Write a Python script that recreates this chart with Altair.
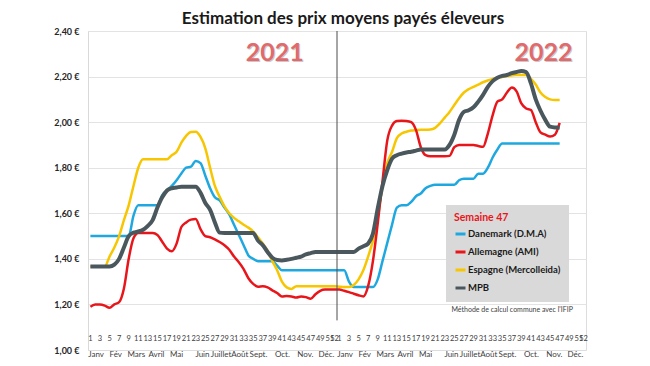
import altair as alt
import pandas as pd

# ---------------- data ----------------
series_names = ["Danemark (D.M.A)", "Allemagne (AMI)", "Espagne (Mercolleida)", "MPB"]
series_colors = ["#1FA8E0", "#E8161B", "#F7C600", "#4A585E"]

weeks_2021 = list(range(1, 53))
weeks_2022 = list(range(1, 48))

danemark_2021 = [1.50] * 9 + [1.59] + [1.635] * 5 + [
    1.68, 1.70, 1.72, 1.745, 1.775, 1.80, 1.805, 1.83, 1.82, 1.765,
    1.71, 1.67, 1.657, 1.625, 1.595, 1.55, 1.505, 1.46, 1.415, 1.40,
] + [1.39] * 4 + [1.37] + [1.35] * 12
danemark_2022 = [1.35, 1.35, 1.30] + [1.276] * 5 + [
    1.31, 1.39, 1.47, 1.55, 1.625, 1.635, 1.635, 1.65, 1.675, 1.687, 1.71, 1.72,
] + [1.725] * 5 + [1.745] + [1.752] * 3 + [1.774, 1.774, 1.80, 1.845, 1.88] + [1.906] * 13

allemagne_2021 = [
    1.19, 1.20, 1.20, 1.195, 1.185, 1.20, 1.21, 1.27, 1.40, 1.49,
    1.513, 1.513, 1.513, 1.513, 1.505, 1.475, 1.445, 1.433, 1.467, 1.54,
    1.56, 1.572, 1.575, 1.53, 1.50, 1.495, 1.485, 1.474, 1.46, 1.44,
    1.41, 1.385, 1.355, 1.315, 1.29, 1.278, 1.28, 1.275, 1.262, 1.25,
    1.235, 1.237, 1.235, 1.23, 1.235, 1.232, 1.225, 1.245, 1.26, 1.265,
    1.265, 1.265,
]
allemagne_2022 = [
    1.265, 1.26, 1.254, 1.247, 1.24, 1.235, 1.28, 1.39, 1.555, 1.74,
    1.92, 1.985, 2.005, 2.006, 2.005, 2.00, 1.965, 1.89, 1.855, 1.85,
    1.85, 1.85, 1.85, 1.852, 1.89, 1.90, 1.90, 1.90, 1.90, 1.895,
    1.892, 1.95, 2.03, 2.09, 2.10, 2.13, 2.152, 2.135, 2.082, 2.06,
    2.053, 2.00, 1.955, 1.945, 1.937, 1.945, 1.997,
]

espagne_2021 = [1.367] * 4 + [1.41, 1.45, 1.50, 1.57, 1.635, 1.72, 1.80] + [1.837] * 6 + [
    1.855, 1.87, 1.91, 1.94, 1.957, 1.958, 1.935, 1.885, 1.80, 1.72,
    1.672, 1.63, 1.60, 1.58, 1.565, 1.55, 1.537, 1.52, 1.495, 1.467,
    1.435, 1.39, 1.35, 1.30, 1.275, 1.268,
] + [1.28] * 9
espagne_2022 = [
    1.278, 1.276, 1.276, 1.285, 1.31, 1.35, 1.41, 1.48, 1.58, 1.72,
    1.82, 1.87, 1.93, 1.95, 1.958, 1.963, 1.965, 1.967, 1.967, 1.968,
    1.975, 1.995, 2.02, 2.045, 2.075, 2.105, 2.13, 2.145, 2.155, 2.165,
    2.175, 2.183, 2.19, 2.195, 2.198, 2.202, 2.205, 2.207, 2.207, 2.207,
    2.19, 2.165, 2.13, 2.11, 2.10, 2.097, 2.097,
]

mpb_2021 = [1.367] * 5 + [
    1.375, 1.40, 1.45, 1.50, 1.515, 1.52, 1.528, 1.545, 1.57, 1.625,
    1.67, 1.70, 1.71, 1.713,
] + [1.717] * 4 + [1.69, 1.645, 1.615, 1.56, 1.515] + [1.513] * 7 + [
    1.48, 1.46, 1.43, 1.405, 1.395, 1.393, 1.396, 1.40, 1.405, 1.41, 1.42, 1.425,
] + [1.43] * 5
mpb_2022 = [1.43] * 4 + [
    1.445, 1.455, 1.467, 1.51, 1.62, 1.72, 1.79, 1.84, 1.855, 1.862,
    1.867, 1.87, 1.875,
] + [1.88] * 6 + [
    1.90, 1.945, 2.01, 2.045, 2.052, 2.065, 2.09, 2.12, 2.155, 2.18,
    2.195, 2.203, 2.207, 2.215, 2.22, 2.224, 2.22, 2.17, 2.10, 2.05,
    2.01, 1.98, 1.977, 1.977,
]

week_ticks = list(range(1, 52, 2)) + [52]
months = ["Janv", "Fév", "Mars", "Avril", "Mai", "Juin", "Juillet", "Août",
          "Sept.", "Oct.", "Nov.", "Déc."]
month_weeks = [2.2, 6.3, 10.6, 14.8, 19.0, 24.4, 28.3, 32.2, 36.1, 41.1, 45.9, 50.3]
years = ["2021", "2022"]
year_weeks = [39.5, 43.6]  # week of the year label centre within its own year

y_ticks = [1.0, 1.2, 1.4, 1.6, 1.8, 2.0, 2.2, 2.4]

# ---------------- tables ----------------
values = {
    "Danemark (D.M.A)": (danemark_2021, danemark_2022),
    "Allemagne (AMI)": (allemagne_2021, allemagne_2022),
    "Espagne (Mercolleida)": (espagne_2021, espagne_2022),
    "MPB": (mpb_2021, mpb_2022),
}
rows = []
for name, (v21, v22) in values.items():
    for w, v in zip(weeks_2021, v21):
        rows.append({"serie": name, "pos": w - 1, "prix": v})
    for w, v in zip(weeks_2022, v22):
        rows.append({"serie": name, "pos": 51 + w, "prix": v})
df = pd.DataFrame(rows)

tick_rows = []
for w in week_ticks:
    tick_rows.append({"pos": w - 1, "label": str(w)})
    tick_rows.append({"pos": 51 + w, "label": str(w)})
ticks_df = pd.DataFrame(tick_rows)

month_rows = []
for m, w in zip(months, month_weeks):
    month_rows.append({"pos": w - 1, "label": m})
    month_rows.append({"pos": 51 + w, "label": m})
months_df = pd.DataFrame(month_rows)

years_df = pd.DataFrame({"label": years, "pos": [year_weeks[0] - 1, 51 + year_weeks[1]]})

# ---------------- chart ----------------
FONT = "Lato"
x_scale = alt.Scale(domain=[-0.5, 103.5], nice=False, zero=False)
y_scale = alt.Scale(domain=[1.0, 2.4], nice=False, zero=False)

y_axis = alt.Axis(
    values=y_ticks,
    labelExpr="replace(format(datum.value, '.2f'), '.', ',') + ' €'",
    title=None, ticks=False, labelPadding=9,
    labelFont=FONT, labelFontSize=9, labelFontWeight="bold", labelColor="#262626",
    domainColor="#D9D9D9", gridColor="#E3E3E3",
    gridOpacity={"condition": {"test": "datum.value < 1.1", "value": 0}, "value": 1},
)

color = alt.Color(
    "serie:N",
    scale=alt.Scale(domain=series_names, range=series_colors),
    legend=alt.Legend(
        orient="none", legendX=358, legendY=174,
        title="Semaine 47", titleColor="#E8161B", titleFont=FONT, titleFontSize=10.5,
        titleFontWeight="bold", titlePadding=4,
        labelFont=FONT, labelFontSize=9.5, labelFontWeight="bold", labelColor="#1A1A1A",
        labelOffset=1,
        symbolType="stroke", symbolStrokeWidth=3, symbolSize=100,
        rowPadding=5, padding=8, fillColor="#D9D9D9",
    ),
)

base = alt.Chart(df)
draw_order = [("Danemark (D.M.A)", 2.5), ("Espagne (Mercolleida)", 2.5),
              ("Allemagne (AMI)", 2.5), ("MPB", 4)]
layers = []
for name, w in draw_order:
    layers.append(
        base.transform_filter(alt.datum.serie == name)
        .mark_line(strokeWidth=w, interpolate="monotone")
        .encode(
            x=alt.X("pos:Q", scale=x_scale, axis=None),
            y=alt.Y("prix:Q", scale=y_scale, axis=y_axis),
            color=color,
        )
    )

sep = alt.Chart(pd.DataFrame({"pos": [51.5]})).mark_rule(color="#4D4D4D", strokeWidth=1).encode(
    x=alt.X("pos:Q", scale=x_scale), y=alt.datum(2.4), y2=alt.datum(1.13)
)

week_labels = alt.Chart(ticks_df).mark_text(
    font=FONT, fontSize=7.5, color="#404040", baseline="middle"
).encode(x=alt.X("pos:Q", scale=x_scale), y=alt.datum(1.05), text="label:N")

month_labels = alt.Chart(months_df).mark_text(
    font=FONT, fontSize=8, color="#404040", baseline="middle"
).encode(x=alt.X("pos:Q", scale=x_scale), y=alt.datum(0.977), text="label:N")

year_shadow = alt.Chart(years_df).mark_text(
    font=FONT, fontSize=25, fontWeight="bold", color="#C9C9C9", dx=1, dy=1
).encode(x=alt.X("pos:Q", scale=x_scale), y=alt.datum(2.303), text="label:N")
year_labels = alt.Chart(years_df).mark_text(
    font=FONT, fontSize=25, fontWeight="bold", color="#E06A6C"
).encode(x=alt.X("pos:Q", scale=x_scale), y=alt.datum(2.303), text="label:N")

note = alt.Chart(pd.DataFrame({"pos": [75.4], "label": ["Méthode de calcul commune avec l'IFIP"]})).mark_text(
    font=FONT, fontSize=7, color="#404040", align="left"
).encode(x=alt.X("pos:Q", scale=x_scale), y=alt.datum(1.175), text="label:N")

chart = alt.layer(
    *layers, sep, week_labels, month_labels, year_shadow, year_labels, note
).properties(
    width=498, height=319,
    autosize="none",
    padding={"left": 80, "top": 23, "right": 56, "bottom": 8},
    title=alt.TitleParams(
        "Estimation des prix moyens payés éleveurs",
        font=FONT, fontSize=17, fontWeight="bold", color="#1A1A1A",
        anchor="middle", dx=6, offset=-1,
    ),
).configure_view(stroke=None).configure(background="white")

chart.save("out.html", embed_options={"renderer": "svg", "actions": False})
